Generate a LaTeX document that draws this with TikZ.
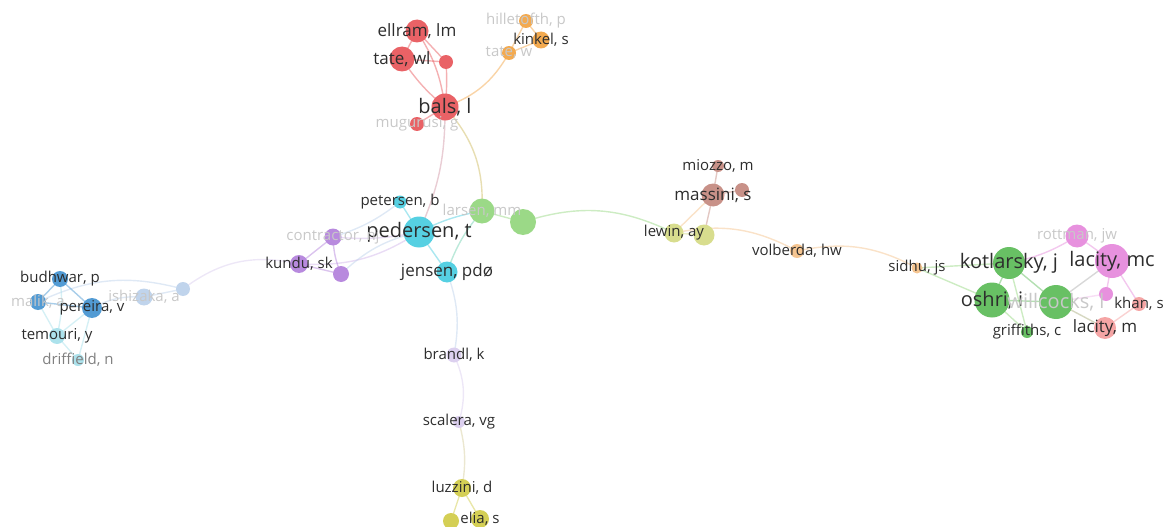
\documentclass[tikz,border=0pt]{standalone}
\usepackage{fontspec}
\setmainfont{Open Sans}
\pgfdeclarelayer{bg}
\pgfsetlayers{bg,main}
\definecolor{cRed}{RGB}{233,98,102}
\definecolor{cOrange}{RGB}{243,170,80}
\definecolor{cCyan}{RGB}{86,208,226}
\definecolor{cGreenL}{RGB}{155,217,135}
\definecolor{cGreen}{RGB}{104,192,100}
\definecolor{cPurple}{RGB}{184,138,222}
\definecolor{cBlue}{RGB}{82,155,212}
\definecolor{cBlueL}{RGB}{192,212,236}
\definecolor{cCyanL}{RGB}{172,226,236}
\definecolor{cBrown}{RGB}{200,145,136}
\definecolor{cYelG}{RGB}{216,221,142}
\definecolor{cOrangeL}{RGB}{245,197,145}
\definecolor{cPink}{RGB}{231,145,222}
\definecolor{cSalmon}{RGB}{245,165,165}
\definecolor{cLav}{RGB}{220,208,239}
\definecolor{cYel}{RGB}{212,207,85}
\definecolor{cText}{RGB}{45,45,45}
\definecolor{cFade}{RGB}{200,200,200}
\tikzset{
  bub/.style={circle, inner sep=0pt, draw=none},
  lab/.style={inner sep=0pt, text=cText, font=\fontsize{15}{18}\selectfont},
  labm/.style={lab, font=\fontsize{17}{20}\selectfont},
  labl/.style={lab, font=\fontsize{20}{24}\selectfont},
  fade/.style={text=cFade},
  ed/.style={line width=1.4pt, draw opacity=0.5},
}
\begin{document}
\begin{tikzpicture}[x=1pt,y=-1pt]
\useasboundingbox (0,0) rectangle (1168,527);
% ---------- bubbles ----------
% red
\node[bub, fill=cRed, minimum size=23pt] (ellram) at (417,31) {};
\node[bub, fill=cRed, minimum size=25pt] (tate) at (402,59) {};
\node[bub, fill=cRed, minimum size=14pt] (red3) at (446,62) {};
\node[bub, fill=cRed, minimum size=27pt] (bals) at (445,107) {};
\node[bub, fill=cRed, minimum size=14pt] (mugurusi) at (417,124) {};
% orange
\node[bub, fill=cOrange, minimum size=14pt] (hill) at (526,21) {};
\node[bub, fill=cOrange, minimum size=17pt] (kinkel) at (541,40) {};
\node[bub, fill=cOrange, minimum size=14pt] (tatew) at (509,53) {};
% cyan
\node[bub, fill=cCyan, minimum size=13pt] (petersen) at (400,202) {};
\node[bub, fill=cCyan, minimum size=31pt] (pedersen) at (419,232) {};
\node[bub, fill=cCyan, minimum size=21pt] (jensen) at (447,272) {};
% green centre
\node[bub, fill=cGreenL, minimum size=25pt] (larsen) at (482,211) {};
\node[bub, fill=cGreenL, minimum size=26pt] (green2) at (523,222) {};
% purple
\node[bub, fill=cPurple, minimum size=17pt] (contractor) at (333,237) {};
\node[bub, fill=cPurple, minimum size=18pt] (kundu) at (299,264) {};
\node[bub, fill=cPurple, minimum size=16pt] (purple3) at (341,274) {};
% left blue
\node[bub, fill=cBlue, minimum size=16pt] (budhwar) at (60,279) {};
\node[bub, fill=cBlue, minimum size=16pt] (malik) at (38,302) {};
\node[bub, fill=cBlue, minimum size=20pt] (pereira) at (92,308) {};
\node[bub, fill=cCyanL, minimum size=16pt] (temouri) at (57,336) {};
\node[bub, fill=cCyanL, minimum size=12pt] (driffield) at (78,360) {};
\node[bub, fill=cBlueL, minimum size=17pt] (ishizaka) at (144,297) {};
\node[bub, fill=cBlueL, minimum size=14pt] (blue2) at (183,289) {};
% brown and lewin
\node[bub, fill=cBrown, minimum size=12pt] (miozzo) at (718,166) {};
\node[bub, fill=cBrown, minimum size=23pt] (massini) at (713,195) {};
\node[bub, fill=cBrown, minimum size=14pt] (brown3) at (742,190) {};
\node[bub, fill=cYelG, minimum size=19pt] (lewin) at (674,233) {};
\node[bub, fill=cYelG, minimum size=21pt] (lewin2) at (704,235) {};
\node[bub, fill=cOrangeL, minimum size=14pt] (volberda) at (797,251) {};
\node[bub, fill=cOrangeL, minimum size=11pt] (sidhu) at (917,268) {};
% right cluster
\node[bub, fill=cGreen, minimum size=32pt] (kotlarsky) at (1009,263) {};
\node[bub, fill=cGreen, minimum size=35pt] (oshri) at (992,300) {};
\node[bub, fill=cGreen, minimum size=34pt] (willcocks) at (1056,302) {};
\node[bub, fill=cGreen, minimum size=12pt] (griffiths) at (1027,332) {};
\node[bub, fill=cPink, minimum size=23pt] (rottman) at (1077,236) {};
\node[bub, fill=cPink, minimum size=34pt] (lacitymc) at (1112,261) {};
\node[bub, fill=cPink, minimum size=14pt] (magenta) at (1106,294) {};
\node[bub, fill=cSalmon, minimum size=14pt] (khan) at (1139,304) {};
\node[bub, fill=cSalmon, minimum size=22pt] (lacitym) at (1105,328) {};
% bottom
\node[bub, fill=cLav, minimum size=15pt] (brandl) at (454,355) {};
\node[bub, fill=cLav, minimum size=12pt] (scalera) at (459,422) {};
\node[bub, fill=cYel, minimum size=18pt] (luzzini) at (462,488) {};
\node[bub, fill=cYel, minimum size=16pt] (yel2) at (451,521) {};
\node[bub, fill=cYel, minimum size=18pt] (elia) at (480,519) {};
% ---------- edges ----------
\begin{pgfonlayer}{bg}
\draw[ed,cRed] (ellram.center) -- (tate.center);
\draw[ed,cRed] (ellram.center) to[bend left=12] (bals.center);
\draw[ed,cRed] (tate.center) to[bend right=8] (bals.center);
\draw[ed,cRed] (tate.center) -- (red3.center);
\draw[ed,cRed] (ellram.center) -- (red3.center);
\draw[ed,cRed] (red3.center) to[bend left=5] (bals.center);
\draw[ed,cRed] (bals.center) -- (mugurusi.center);
\draw[ed,cOrange] (bals.center) to[bend right=20] (tatew.center);
\draw[ed,cOrange] (tatew.center) -- (kinkel.center);
\draw[ed,cOrange] (tatew.center) -- (hill.center);
\draw[ed,cOrange] (hill.center) -- (kinkel.center);
\draw[ed,cRed!50!cBlueL] (bals.center) to[bend left=12] (pedersen.center);
\draw[ed,cOrange!60!cGreenL] (bals.center) to[bend left=22] (larsen.center);
\draw[ed,cCyan] (pedersen.center) -- (petersen.center);
\draw[ed,cCyan] (pedersen.center) -- (jensen.center);
\draw[ed,cCyan] (pedersen.center) to[bend left=8] (larsen.center);
\draw[ed,cCyan!50!cGreenL] (jensen.center) to[bend left=10] (larsen.center);
\draw[ed,cGreenL] (larsen.center) -- (green2.center);
\draw[ed,cGreenL] (green2.center) to[bend left=22] (lewin.center);
\draw[ed,cBlueL] (petersen.center) to[bend left=10] (contractor.center);
\draw[ed,cPurple!60] (pedersen.center) to[bend left=8] (contractor.center);
\draw[ed,cPurple!60] (pedersen.center) to[bend left=18] (kundu.center);
\draw[ed,cBlueL] (pedersen.center) to[bend right=15] (purple3.center);
\draw[ed,cPurple] (kundu.center) -- (contractor.center);
\draw[ed,cPurple] (kundu.center) -- (purple3.center);
\draw[ed,cPurple] (contractor.center) to[bend right=10] (purple3.center);
\draw[ed,cLav] (kundu.center) to[bend right=25] (blue2.center);
\draw[ed,cBlueL] (blue2.center) -- (ishizaka.center);
\draw[ed,cBlueL] (pereira.center) to[bend left=15] (ishizaka.center);
\draw[ed,cBlueL] (malik.center) to[bend left=20] (blue2.center);
\draw[ed,cBlue] (budhwar.center) -- (malik.center);
\draw[ed,cBlue] (budhwar.center) -- (pereira.center);
\draw[ed,cBlue] (malik.center) -- (pereira.center);
\draw[ed,cCyanL] (malik.center) -- (temouri.center);
\draw[ed,cCyanL] (budhwar.center) to[bend left=10] (temouri.center);
\draw[ed,cCyanL] (pereira.center) -- (temouri.center);
\draw[ed,cCyanL] (temouri.center) -- (driffield.center);
\draw[ed,cCyanL] (pereira.center) -- (driffield.center);
\draw[ed,cBlueL] (jensen.center) to[bend left=15] (brandl.center);
\draw[ed,cLav] (brandl.center) to[bend left=20] (scalera.center);
\draw[ed,cYel!50!cLav] (scalera.center) to[bend left=12] (luzzini.center);
\draw[ed,cYel] (luzzini.center) -- (yel2.center);
\draw[ed,cYel] (luzzini.center) -- (elia.center);
\draw[ed,cBrown] (miozzo.center) -- (massini.center);
\draw[ed,cBrown] (massini.center) -- (brown3.center);
\draw[ed,cOrangeL] (massini.center) -- (lewin.center);
\draw[ed,cBrown] (massini.center) -- (lewin2.center);
\draw[ed,cYelG] (lewin.center) -- (lewin2.center);
\draw[ed,cOrangeL] (lewin.center) to[bend left=20] (volberda.center);
\draw[ed,cOrangeL] (volberda.center) to[bend left=20] (sidhu.center);
\draw[ed,cGreenL] (sidhu.center) -- (kotlarsky.center);
\draw[ed,cGreenL] (sidhu.center) -- (oshri.center);
\draw[ed,cGreen] (kotlarsky.center) -- (oshri.center);
\draw[ed,cGreen] (kotlarsky.center) -- (willcocks.center);
\draw[ed,cGreen] (oshri.center) -- (willcocks.center);
\draw[ed,cGreenL] (oshri.center) -- (griffiths.center);
\draw[ed,cGreenL] (kotlarsky.center) -- (griffiths.center);
\draw[ed,cGreen!50!cSalmon] (willcocks.center) -- (lacitym.center);
\draw[ed,gray!60] (willcocks.center) -- (lacitymc.center);
\draw[ed,cPink] (rottman.center) -- (lacitymc.center);
\draw[ed,cPink] (rottman.center) to[bend left=10] (kotlarsky.center);
\draw[ed,cPink] (lacitymc.center) -- (magenta.center);
\draw[ed,cPink] (lacitymc.center) -- (khan.center);
\draw[ed,cSalmon] (khan.center) -- (lacitym.center);
\draw[ed,cPink!60] (magenta.center) -- (willcocks.center);
\end{pgfonlayer}
% ---------- labels ----------
\node[labm] (l-ellram) at (ellram) {ellram, lm};
\node[labm] (l-tate) at (tate) {tate, wl};
\node[labl] (l-bals) at (bals) {bals, l};
\node[lab,fade] (l-mugurusi) at (mugurusi) {mugurusi, g};
\node[lab,fade] (l-hill) at (hill) {hilletofth, p};
\node[lab] (l-kinkel) at (kinkel) {kinkel, s};
\node[lab,fade] (l-tatew) at (tatew) {tate, w};
\node[lab] (l-petersen) at (petersen) {petersen, b};
\node[labl] (l-pedersen) at (pedersen) {pedersen, t};
\node[labm] (l-jensen) at (jensen) {jensen, pdø};
\node[lab,fade] (l-larsen) at (larsen) {larsen, mm};
\node[lab,fade] (l-contractor) at (contractor) {contractor, nj};
\node[lab] (l-kundu) at (kundu) {kundu, sk};
\node[lab] (l-budhwar) at (budhwar) {budhwar, p};
\node[lab,fade] (l-malik) at (malik) {malik, a};
\node[lab] (l-pereira) at (pereira) {pereira, v};
\node[lab] (l-temouri) at (temouri) {temouri, y};
\node[lab,text=gray] (l-driffield) at (driffield) {driffield, n};
\node[lab,fade] (l-ishizaka) at (ishizaka) {ishizaka, a};
\node[lab] (l-miozzo) at (miozzo) {miozzo, m};
\node[labm] (l-massini) at (massini) {massini, s};
\node[lab] (l-lewin) at (lewin) {lewin, ay};
\node[lab] (l-volberda) at (volberda) {volberda, hw};
\node[lab] (l-sidhu) at (sidhu) {sidhu, js};
\node[labl] (l-kotlarsky) at (kotlarsky) {kotlarsky, j};
\node[labl] (l-oshri) at (oshri) {oshri, i};
\node[labl,fade] (l-willcocks) at (willcocks) {willcocks, l};
\node[lab] (l-griffiths) at (griffiths) {griffiths, c};
\node[lab,fade] (l-rottman) at (rottman) {rottman, jw};
\node[labl] (l-lacitymc) at (lacitymc) {lacity, mc};
\node[lab] (l-khan) at (khan) {khan, s};
\node[labm] (l-lacitym) at (lacitym) {lacity, m};
\node[lab] (l-brandl) at (brandl) {brandl, k};
\node[lab] (l-scalera) at (scalera) {scalera, vg};
\node[lab] (l-luzzini) at (luzzini) {luzzini, d};
\node[lab] (l-elia) at (elia) {elia, s};
\end{tikzpicture}
\end{document}
